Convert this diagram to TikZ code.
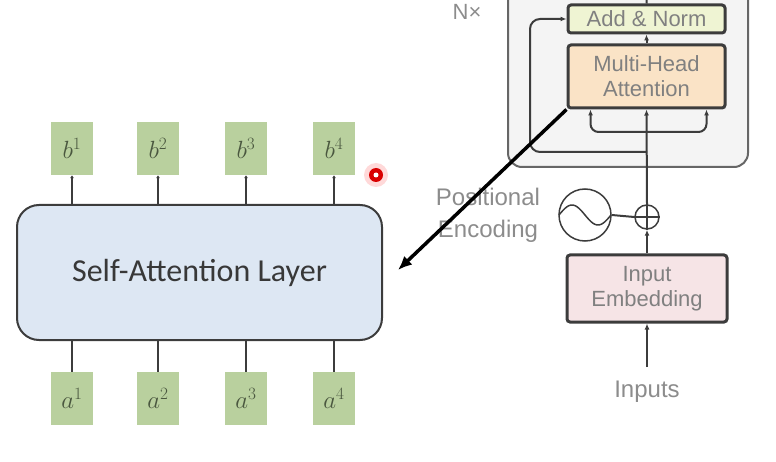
\documentclass[tikz,border=0pt]{standalone}
\usepackage{fontspec}
\setmainfont{Carlito}
\newfontfamily\helv{Liberation Sans}
\usetikzlibrary{arrows.meta, positioning}

\definecolor{edge}{HTML}{3C3C3C}
\definecolor{layerblue}{HTML}{DDE7F3}
\definecolor{tokgreen}{HTML}{B9D09E}
\definecolor{tokink}{HTML}{4A573F}
\definecolor{blockgray}{HTML}{F4F4F4}
\definecolor{normyellow}{HTML}{EFF4D3}
\definecolor{attnorange}{HTML}{FAE3C6}
\definecolor{embpink}{HTML}{F6E4E6}

\begin{document}
\begin{tikzpicture}[x=1pt, y=-1pt,
    every node/.style={inner sep=0pt},
    token/.style={fill=tokgreen, minimum width=42pt, minimum height=53pt, text=tokink, font=\fontsize{26}{26}\selectfont},
    layer/.style={draw=edge, line width=2pt, fill=layerblue, rounded corners=22pt, minimum width=365pt, minimum height=135pt, font=\fontsize{32}{32}\selectfont, text=black!78},
    tbox/.style={draw=edge, line width=3pt, rounded corners=3pt, font=\helv\fontsize{22}{25}\selectfont, text=black!50, align=center},
    note/.style={font=\helv\fontsize{24}{32}\selectfont, text=black!45, align=center},
    wire/.style={draw=edge, line width=2pt},
    flow/.style={wire, -{Latex[length=6pt,width=5pt]}},
    tip/.style={wire, -{Latex[length=3pt,width=4pt]}}]
  \useasboundingbox (0,0) rectangle (776,462);
  \clip (0,0) rectangle (776,462);

  % transformer encoder
  \draw[fill=blockgray, draw=black!60, line width=2pt, rounded corners=14pt] (508,-30) rectangle (748,167);
  \node[note, font=\helv\fontsize{22}{22}\selectfont] (nx) at (467,12) {N×};
  \node[tbox, fill=normyellow, minimum width=157pt, minimum height=28pt] (addnorm) at (646.5,19) {Add \& Norm};
  \node[tbox, fill=attnorange, minimum width=157pt, minimum height=63pt] (mha) at (646.5,76.5) {Multi-Head\\Attention};
  \node[tbox, fill=embpink, minimum width=160pt, minimum height=67pt] (inemb) at (647,288.5) {Input\\Embedding};
  \node[draw=edge, line width=1.5pt, circle, minimum size=24pt] (plus) at (647,217) {};
  \draw[edge, line width=1.5pt] (plus.north) -- (plus.south) (plus.west) -- (plus.east);
  \node[draw=edge, line width=1.5pt, circle, minimum size=52pt] (posenc) at (585,215) {};
  \draw[edge, line width=1.5pt] plot[domain=-1:1, samples=40, smooth] ({585+26*\x},{215+10*sin(180*\x)});
  \node[note] (posname) at (488,215) {Positional\\Encoding};
  \node[note] (inputs) at (647,392) {Inputs};

  \coordinate (inbot) at (647,367);
  \coordinate (split) at (647,132);
  \coordinate (resid) at (647,152);
  \coordinate (residup) at (530,19);
  \coordinate (blocktop) at (647,-10);
  \draw[flow] (inbot) -- (inemb.south);
  \draw[flow] (inemb.north) -- (plus.south);
  \draw[wire] (posenc.east) -- (plus.west);
  \draw[flow] (plus.north) -- (mha.south);
  \draw[flow] (mha.north) -- (addnorm.south);
  \draw[wire] (addnorm.north) -- (blocktop);
  \draw[flow, rounded corners=8pt] (split) -| ([xshift=-56pt]mha.south);
  \draw[flow, rounded corners=8pt] (split) -| ([xshift=60pt]mha.south);
  \draw[flow, rounded corners=10pt] (resid) -| (residup) -- (addnorm.west);

  % self-attention layer
  \node[layer] (sal) at (199.5,272.5) {Self-Attention Layer};
  \node[token] (b1) at (72,148.5) {$b^1$};
  \node[token] (b2) at (158,148.5) {$b^2$};
  \node[token] (b3) at (246,148.5) {$b^3$};
  \node[token] (b4) at (334,148.5) {$b^4$};
  \node[token] (a1) at (72,398.5) {$a^1$};
  \node[token] (a2) at (158,398.5) {$a^2$};
  \node[token] (a3) at (246,398.5) {$a^3$};
  \node[token] (a4) at (334,398.5) {$a^4$};
  \draw[tip] (b1.south |- sal.north) -- (b1.south);
  \draw[tip] (b2.south |- sal.north) -- (b2.south);
  \draw[tip] (b3.south |- sal.north) -- (b3.south);
  \draw[tip] (b4.south |- sal.north) -- (b4.south);
  \draw[wire] (a1.north) -- (a1.north |- sal.south);
  \draw[wire] (a2.north) -- (a2.north |- sal.south);
  \draw[wire] (a3.north) -- (a3.north |- sal.south);
  \draw[wire] (a4.north) -- (a4.north |- sal.south);

  % pointer from the encoder to the layer
  \coordinate (target) at (398,270);
  \draw[line width=3.5pt, -{Latex[length=14pt,width=12pt]}] (mha.south west) -- (target);

  % red pointer dot
  \fill[red!15] (376,175) circle (12pt);
  \fill[red!85!black] (376,175) circle (7pt);
  \fill[white] (376,175) circle (2.5pt);
\end{tikzpicture}
\end{document}
